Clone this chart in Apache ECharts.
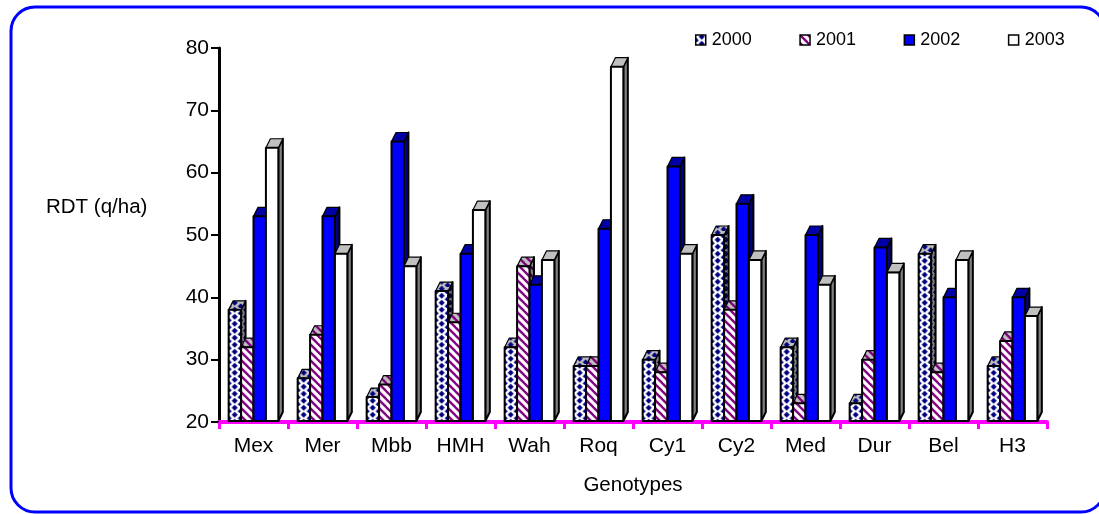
<!DOCTYPE html>
<html>
<head>
<meta charset="utf-8">
<title>RDT</title>
<style>
  html, body { margin: 0; padding: 0; background: #fff; }
  #main { width: 1099px; height: 514px; }
</style>
<script src="https://cdn.jsdelivr.net/npm/echarts@6/dist/echarts.min.js"></script>
</head>
<body>
<div id="main"></div>
<script>
var genotypes = ['Mex', 'Mer', 'Mbb', 'HMH', 'Wah', 'Roq', 'Cy1', 'Cy2', 'Med', 'Dur', 'Bel', 'H3'];
var y2000 = [38, 27, 24, 41, 32, 29, 30, 50, 32, 23, 47, 29];
var y2001 = [32, 34, 26, 36, 45, 29, 28, 38, 23, 30, 28, 33];
var y2002 = [53, 53, 65, 47, 42, 51, 61, 55, 50, 48, 40, 40];
var y2003 = [64, 47, 45, 54, 46, 77, 47, 46, 42, 44, 46, 37];
var years = ['2000', '2001', '2002', '2003'];
var yTicks = { min: 20, max: 80, step: 10 };

var DEPTH_X = 4.5;
var DEPTH_Y = 9;
var FONT = '"Liberation Sans", Arial, sans-serif';

// tile used to fill the dotted bars
function dots(bg, fg) {
  var c = document.createElement('canvas');
  c.width = 12;
  c.height = 7;
  var g = c.getContext('2d');
  g.fillStyle = bg;
  g.fillRect(0, 0, 12, 7);
  g.fillStyle = fg;
  [[6, 1.75], [6, 8.75], [0, 5.25], [12, 5.25]].forEach(function (p) {
    g.beginPath();
    g.moveTo(p[0], p[1] - 3);
    g.lineTo(p[0] + 3, p[1]);
    g.lineTo(p[0], p[1] + 3);
    g.lineTo(p[0] - 3, p[1]);
    g.closePath();
    g.fill();
  });
  return { image: c, repeat: 'repeat' };
}

// tile used to fill the hatched bars
function stripes(bg, fg) {
  var c = document.createElement('canvas');
  c.width = 8;
  c.height = 8;
  var g = c.getContext('2d');
  g.fillStyle = bg;
  g.fillRect(0, 0, 8, 8);
  g.strokeStyle = fg;
  g.lineWidth = 2.4;
  [-8, 0, 8].forEach(function (d) {
    g.beginPath();
    g.moveTo(d - 1, -1);
    g.lineTo(d + 9, 9);
    g.stroke();
  });
  return { image: c, repeat: 'repeat' };
}

var fills = [
  { front: dots('#fff', '#000080'), top: dots('#c0c0c0', '#000080'), side: dots('#808080', '#000040') },
  { front: stripes('#fff', '#800080'), top: stripes('#c0c0c0', '#800080'), side: stripes('#808080', '#400040') },
  { front: '#0000ff', top: '#0000a6', side: '#000080' },
  { front: '#fff', top: '#c0c0c0', side: '#808080' }
];

// shift a tile so it starts at the left edge of the bar
function alignFill(fill, x) {
  if (typeof fill === 'string') {
    return fill;
  }
  return Object.assign({}, fill, { x: x });
}

function barItem(idx) {
  return function (params, api) {
    var band = api.size([1, 0])[0];
    var w = band * 0.18;
    var p = api.coord([api.value(0), api.value(1)]);
    var base = api.coord([api.value(0), yTicks.min]);
    var x = p[0] + (idx - 2) * w;
    var y = p[1];
    var b = base[1] - 1;
    var line = { stroke: '#000', lineWidth: 2, lineJoin: 'round' };
    return {
      type: 'group',
      children: [
        {
          type: 'polygon',
          shape: { points: [[x + w, y], [x + w + DEPTH_X, y - DEPTH_Y], [x + w + DEPTH_X, b - DEPTH_Y], [x + w, b]] },
          style: Object.assign({ fill: fills[idx].side }, line)
        },
        {
          type: 'polygon',
          shape: { points: [[x, y], [x + DEPTH_X, y - DEPTH_Y], [x + w + DEPTH_X, y - DEPTH_Y], [x + w, y]] },
          style: Object.assign({ fill: alignFill(fills[idx].top, x) }, line, { lineWidth: 1.2 })
        },
        {
          type: 'rect',
          shape: { x: x, y: y, width: w, height: b - y },
          style: Object.assign({ fill: alignFill(fills[idx].front, x) }, line)
        }
      ]
    };
  };
}

function toData(vals) {
  return vals.map(function (v, i) { return [i, v]; });
}

var seriesValues = [y2000, y2001, y2002, y2003];

var myChart = echarts.init(document.getElementById('main'));

myChart.setOption({
  animation: false,
  textStyle: { fontFamily: FONT, color: '#000' },
  grid: { left: 219, right: 52, top: 48, bottom: 92 },
  legend: {
    left: 690,
    top: 26,
    itemWidth: 10,
    itemHeight: 10,
    itemGap: 47.5,
    icon: 'rect',
    textStyle: { fontSize: 18, color: '#000', padding: [0, 0, 0, 1] },
    data: years.map(function (y, i) {
      return { name: y, itemStyle: { color: fills[i].front, borderColor: '#000', borderWidth: 1.5 } };
    })
  },
  xAxis: {
    type: 'category',
    data: genotypes,
    name: 'Genotypes',
    nameLocation: 'middle',
    nameGap: 53,
    nameTextStyle: { fontSize: 20.5, color: '#000' },
    axisLine: { lineStyle: { color: '#ff00ff', width: 4 } },
    axisTick: { show: true, length: 7, lineStyle: { color: '#ff00ff', width: 3 } },
    axisLabel: { fontSize: 21, color: '#000', margin: 14 }
  },
  yAxis: {
    type: 'value',
    min: yTicks.min,
    max: yTicks.max,
    interval: yTicks.step,
    splitLine: { show: false },
    axisLine: { show: true, lineStyle: { color: '#000', width: 3 } },
    axisTick: { show: true, length: 8, lineStyle: { color: '#000', width: 2 } },
    axisLabel: { fontSize: 21, color: '#000', margin: 10 }
  },
  graphic: [
    {
      type: 'rect',
      silent: true,
      shape: { x: 11, y: 7, width: 1094, height: 505, r: 24 },
      style: { fill: 'none', stroke: '#0000ff', lineWidth: 3 }
    },
    {
      type: 'text',
      left: 46,
      top: 197,
      style: { text: 'RDT (q/ha)', fontSize: 20.5, fill: '#000', fontFamily: FONT }
    }
  ],
  series: seriesValues.map(function (vals, i) {
    return {
      name: years[i],
      type: 'custom',
      clip: false,
      itemStyle: { color: fills[i].front },
      encode: { x: 0, y: 1 },
      renderItem: barItem(i),
      data: toData(vals)
    };
  })
});
</script>
</body>
</html>
